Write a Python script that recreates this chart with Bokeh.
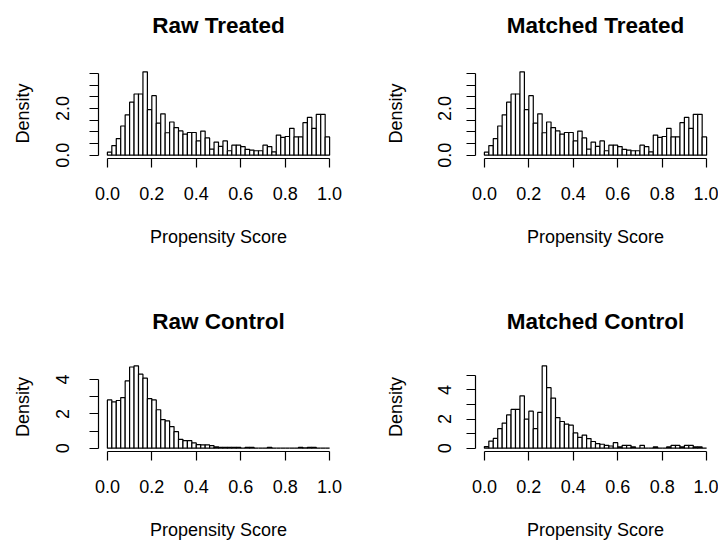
from bokeh.plotting import figure
from bokeh.layouts import gridplot
from bokeh.models import FixedTicker, Range1d, ColumnDataSource, LinearAxis
from bokeh.embed import file_html
from bokeh.resources import INLINE

# ---- data (densities per 0.02-wide bin) ----
bin_left = [0.00, 0.02, 0.04, 0.06, 0.08, 0.10, 0.12, 0.14, 0.16, 0.18,
            0.20, 0.22, 0.24, 0.26, 0.28, 0.30, 0.32, 0.34, 0.36, 0.38,
            0.40, 0.42, 0.44, 0.46, 0.48, 0.50, 0.52, 0.54, 0.56, 0.58,
            0.60, 0.62, 0.64, 0.66, 0.68, 0.70, 0.72, 0.74, 0.76, 0.78,
            0.80, 0.82, 0.84, 0.86, 0.88, 0.90, 0.92, 0.94, 0.96, 0.98]
bin_right = [0.02, 0.04, 0.06, 0.08, 0.10, 0.12, 0.14, 0.16, 0.18, 0.20,
             0.22, 0.24, 0.26, 0.28, 0.30, 0.32, 0.34, 0.36, 0.38, 0.40,
             0.42, 0.44, 0.46, 0.48, 0.50, 0.52, 0.54, 0.56, 0.58, 0.60,
             0.62, 0.64, 0.66, 0.68, 0.70, 0.72, 0.74, 0.76, 0.78, 0.80,
             0.82, 0.84, 0.86, 0.88, 0.90, 0.92, 0.94, 0.96, 0.98, 1.00]

raw_treated = [0.13, 0.41, 0.71, 1.25, 1.73, 2.27, 2.62, 2.62, 3.57, 1.95,
               2.55, 1.37, 1.77, 0.96, 1.42, 1.18, 1.04, 0.90, 0.97, 0.97,
               0.61, 1.03, 0.74, 0.26, 0.56, 0.38, 0.61, 0.19, 0.43, 0.43,
               0.37, 0.25, 0.22, 0.19, 0.19, 0.43, 0.37, 0.14, 0.86, 0.76,
               0.80, 1.15, 0.78, 0.78, 1.39, 1.62, 1.15, 1.75, 1.75, 0.78]
matched_treated = [0.13, 0.41, 0.71, 1.25, 1.73, 2.27, 2.62, 2.62, 3.57, 1.95,
                   2.55, 1.37, 1.77, 0.96, 1.42, 1.18, 1.04, 0.90, 0.97, 0.97,
                   0.61, 1.03, 0.74, 0.26, 0.56, 0.38, 0.61, 0.19, 0.43, 0.43,
                   0.37, 0.25, 0.22, 0.19, 0.19, 0.43, 0.37, 0.14, 0.86, 0.76,
                   0.80, 1.15, 0.78, 0.78, 1.39, 1.62, 1.15, 1.75, 1.75, 0.78]
raw_control = [2.81, 2.70, 2.78, 2.95, 3.92, 4.73, 4.80, 4.31, 4.08, 2.89,
               2.81, 2.24, 1.67, 1.59, 1.26, 0.96, 0.52, 0.44, 0.44, 0.31,
               0.21, 0.19, 0.19, 0.15, 0.08, 0.05, 0.05, 0.05, 0.05, 0.05,
               0.00, 0.05, 0.05, 0.00, 0.00, 0.00, 0.05, 0.00, 0.00, 0.00,
               0.00, 0.00, 0.00, 0.05, 0.02, 0.05, 0.05, 0.00, 0.00, 0.00]
matched_control = [0.11, 0.49, 0.67, 1.34, 1.72, 2.28, 2.66, 2.66, 3.59, 1.99,
                   2.54, 1.34, 2.46, 5.65, 4.15, 3.44, 2.10, 1.83, 1.65, 1.58,
                   1.05, 0.74, 0.90, 0.66, 0.46, 0.31, 0.27, 0.20, 0.15, 0.38,
                   0.09, 0.20, 0.20, 0.09, 0.00, 0.20, 0.00, 0.00, 0.09, 0.00,
                   0.00, 0.09, 0.20, 0.20, 0.09, 0.20, 0.20, 0.09, 0.09, 0.00]

x_ticks = [0.0, 0.2, 0.4, 0.6, 0.8, 1.0]
x_tick_labels = ["0.0", "0.2", "0.4", "0.6", "0.8", "1.0"]

treated_y_ticks = [0.0, 0.5, 1.0, 1.5, 2.0, 2.5, 3.0, 3.5]
treated_y_labels = ["0.0", "", "", "", "2.0", "", "", ""]
raw_control_y_ticks = [0, 1, 2, 3, 4]
raw_control_y_labels = ["0", "", "2", "", "4"]
matched_control_y_ticks = [0, 1, 2, 3, 4, 5]
matched_control_y_labels = ["0", "", "2", "", "4", ""]

titles = ["Raw Treated", "Matched Treated", "Raw Control", "Matched Control"]
x_label = "Propensity Score"
y_label = "Density"

FONT = "Liberation Sans"


def panel(title, dens, yticks, ylabels, w, h, bl, br, bt, bb,
          y_lab_standoff, y_axlab_standoff, title_gap):
    ymax = max(dens)
    p = figure(width=w, height=h, output_backend="svg", toolbar_location=None,
               x_range=Range1d(-0.04, 1.04),
               y_range=Range1d(-0.04 * ymax, 1.04 * ymax),
               min_border_left=bl, min_border_right=br,
               min_border_top=bt, min_border_bottom=bb,
               title=title)
    src = ColumnDataSource(dict(left=bin_left, right=bin_right, top=dens,
                                bottom=[0] * len(dens)))
    p.quad(left="left", right="right", top="top", bottom="bottom", source=src,
           fill_color="white", line_color="black", line_width=1.2)
    p.xgrid.visible = False
    p.ygrid.visible = False
    p.outline_line_color = None
    p.background_fill_color = "white"
    p.border_fill_color = "white"

    p.title.text_font = FONT
    p.title.text_font_size = "22.5px"
    p.title.text_font_style = "bold"
    p.title.align = "center"
    p.title.vertical_align = "bottom"
    p.title.text_color = "black"
    p.title.standoff = 0

    xa = p.below[0]
    ya = p.left[0]
    for ax in (xa, ya):
        ax.minor_tick_line_color = None
        ax.major_tick_in = 0
        ax.major_tick_out = 9
        ax.axis_line_width = 1.2
        ax.major_tick_line_width = 1.2
        ax.axis_line_color = "black"
        ax.major_tick_line_color = "black"
        ax.major_label_text_font = FONT
        ax.major_label_text_font_size = "18px"
        ax.major_label_text_color = "black"
        ax.axis_label_text_font = FONT
        ax.axis_label_text_font_size = "18px"
        ax.axis_label_text_font_style = "normal"
        ax.axis_label_text_color = "black"

    xa.ticker = FixedTicker(ticks=x_ticks)
    xa.major_label_overrides = {t: s for t, s in zip(x_ticks, x_tick_labels)}
    xa.bounds = (x_ticks[0], x_ticks[-1])
    xa.axis_label = x_label
    xa.major_label_standoff = 19
    xa.axis_label_standoff = 24

    ya.ticker = FixedTicker(ticks=yticks)
    ya.major_label_overrides = {t: s for t, s in zip(yticks, ylabels)}
    ya.bounds = (yticks[0], yticks[-1])
    ya.axis_label = y_label
    ya.major_label_orientation = "vertical"
    ya.major_label_standoff = y_lab_standoff
    ya.axis_label_standoff = y_axlab_standoff

    # blank spacer between the title and the plotting area (white, unlabelled)
    gap = LinearAxis(ticker=FixedTicker(ticks=[0.5]),
                     major_label_overrides={0.5: ""},
                     axis_line_color=None,
                     major_tick_line_color="white", minor_tick_line_color=None,
                     major_tick_in=0, major_tick_out=title_gap,
                     minor_tick_in=0, minor_tick_out=0,
                     major_label_standoff=0, axis_label_standoff=0,
                     major_label_text_font_size="1px")
    p.add_layout(gap, "above")
    return p


p1 = panel(titles[0], raw_treated, treated_y_ticks, treated_y_labels,
           359, 295, 98, 21, 68, 137, 20, 21, 31)
p2 = panel(titles[1], matched_treated, treated_y_ticks, treated_y_labels,
           359, 295, 116, 3, 68, 137, 15, 30, 31)
p3 = panel(titles[2], raw_control, raw_control_y_ticks, raw_control_y_labels,
           359, 247, 98, 21, 67, 90, 20, 21, 29)
p4 = panel(titles[3], matched_control, matched_control_y_ticks, matched_control_y_labels,
           359, 247, 116, 3, 67, 90, 15, 30, 29)

grid = gridplot([[p1, p2], [p3, p4]], toolbar_location=None)

open("out.html", "w").write(file_html(grid, INLINE))
